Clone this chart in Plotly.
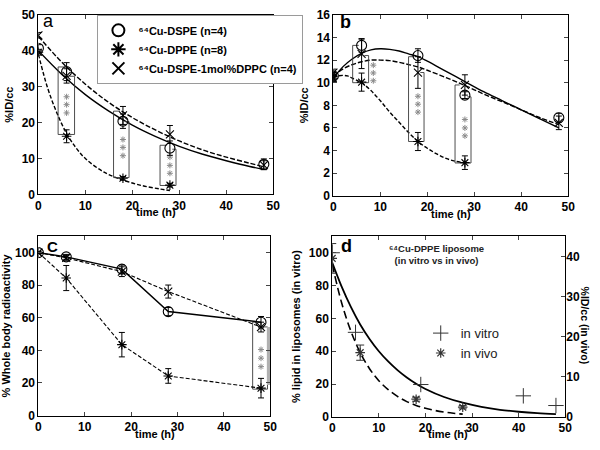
import plotly.graph_objects as go

# --- data ---
t_pts = [0, 6, 18, 28, 48]
t_pts4 = [0, 6, 18, 28]

# panel a (%ID/cc)
a_dspe = [40.7, 34.2, 20.4, 12.9, 8.4]
a_dspe_err = [1.0, 2.5, 2.0, 2.0, 1.5]
a_dppe = [39.6, 16.2, 4.5, 2.6]
a_dppe_err = [0.8, 1.8, 0.5, 0.5]
a_dppc = [44.3, 33.0, 22.0, 16.7, 8.2]
a_dppc_err = [0.8, 2.0, 2.5, 2.5, 1.2]

fit_t_a = [0, 5, 10, 15, 20, 25, 30, 35, 40, 45, 48]
a_fit_dspe = [40, 33.4, 27.8, 23.2, 19.3, 16.1, 13.4, 11.2, 9.4, 7.8, 7.0]
a_fit_dppc = [44, 36.8, 30.7, 25.6, 21.4, 17.9, 14.9, 12.4, 10.4, 8.7, 7.7]
fit_t_a2 = [0, 2, 4, 6, 8, 10, 14, 18, 22, 26, 28]
a_fit_dppe = [39, 29.5, 22.5, 17, 13, 10, 6.2, 4.0, 2.5, 1.5, 1.1]

# panel b (%ID/cc)
b_dspe = [10.6, 13.3, 12.4, 8.9, 6.9]
b_dspe_err = [0.3, 0.6, 0.6, 0.3, 0.4]
b_dppe = [10.4, 10.05, 4.8, 2.93]
b_dppe_err = [0.3, 0.8, 0.8, 0.6]
b_dppc = [10.9, 12.55, 10.9, 9.8, 6.45]
b_dppc_err = [0.3, 1.3, 1.4, 0.9, 0.6]

fit_t_b = [0, 2, 4, 6, 8, 10, 12, 14, 16, 18, 20, 24, 28, 32, 36, 40, 44, 48]
b_fit_dspe = [10.4, 11.4, 12.1, 12.6, 12.9, 13.0, 12.95, 12.8, 12.55, 12.3, 11.9, 11.0,
              10.1, 9.2, 8.4, 7.6, 6.8, 6.0]
b_fit_dppc = [10.6, 11.2, 11.6, 11.85, 12.0, 12.0, 11.95, 11.8, 11.6, 11.4, 11.1, 10.45,
              9.75, 9.0, 8.3, 7.6, 6.9, 6.3]
fit_t_b2 = [0, 1, 2, 3, 4, 6, 8, 10, 12, 14, 16, 18, 20, 22, 24, 26, 28]
b_fit_dppe = [10.4, 10.6, 10.65, 10.6, 10.4, 10.0, 9.3, 8.4, 7.4, 6.5, 5.6, 4.8, 4.2,
              3.7, 3.3, 3.05, 2.9]

# panel c (% whole body radioactivity)
c_dspe = [100, 97.4, 89.9, 63.8, 57.3]
c_dspe_err = [0.5, 1.5, 2.5, 2.5, 3.5]
c_dppe = [100, 84.4, 43.5, 24.3, 16.8]
c_dppe_err = [0.5, 7.7, 7.5, 4.5, 6.0]
c_dppc = [100, 96.8, 88.3, 76.1, 54.3]
c_dppc_err = [0.5, 1.5, 3.0, 4.0, 3.0]

# panel d
d_vitro_t = [0, 5, 19, 41, 48]
d_vitro = [100, 51.5, 19.7, 12.8, 6.9]
d_vivo_t = [0, 6, 18, 28]
d_vivo = [39.5, 16.0, 4.4, 2.4]
d_vivo_err = [3.7, 1.9, 0.5, 0.4]
fit_t_d = [0, 2, 4, 6, 8, 10, 12, 14, 16, 18, 20, 24, 28, 32, 36, 40, 44, 48]
d_fit_vitro = [94, 79.5, 67, 56.3, 47.5, 40, 33.8, 28.5, 24, 20.2, 17, 12.1, 8.6, 6.1,
               4.3, 3.1, 2.2, 1.6]
fit_t_d2 = [0, 2, 4, 6, 8, 10, 12, 14, 16, 18, 20, 22, 24, 26, 28]
d_fit_vivo = [38, 28.5, 21.4, 16, 12, 9, 6.8, 5.1, 3.8, 2.85, 2.14, 1.6, 1.2, 0.9, 0.67]

# significance brackets (x list, y list) and *** positions
a_brackets = [
    ([6.0, 4.2, 4.2, 7.7, 7.7, 6.6], [35.5, 35.5, 16.7, 16.7, 32.9, 32.9]),
    ([17.3, 16.0, 16.0, 19.3, 19.3, 18.4], [23.2, 23.2, 4.7, 4.7, 20.3, 20.3]),
    ([27.3, 25.9, 25.9, 29.3, 29.3, 28.5], [13.7, 13.7, 2.5, 2.5, 12.6, 12.6]),
]
a_star_x = [6, 6, 6, 18, 18, 18, 28, 28, 28]
a_star_y = [27.2, 25.0, 22.7, 15.3, 13.1, 10.8, 10.4, 8.1, 5.9]

b_brackets = [
    ([5.4, 4.1, 4.1, 5.4], [13.3, 13.3, 10.0, 10.0]),
    ([6.6, 7.5, 7.5, 6.6], [12.4, 12.4, 10.0, 10.0]),
    ([17.2, 16.0, 16.0, 19.3, 19.3, 18.5], [12.3, 12.3, 4.8, 4.8, 10.9, 10.9]),
    ([26.9, 25.9, 25.9, 29.3, 29.3, 28.5], [9.8, 9.8, 2.9, 2.9, 8.75, 8.75]),
]
b_star_x = [8.5, 8.5, 8.5, 18, 18, 18, 28, 28, 28]
b_star_y = [11.55, 10.86, 10.17, 8.8, 8.1, 7.4, 6.75, 6.0, 5.3]

c_brackets = [
    ([47.5, 46.2, 46.2, 49.4, 49.4, 48.5], [57.3, 57.3, 16.2, 16.2, 54.4, 54.4]),
]
c_grey_bar = ([49.7, 49.7], [54.4, 18.8])
c_star_x = [48, 48, 48]
c_star_y = [40.5, 35.2, 30.0]

BLACK = "black"
GREY = "#8a8a8a"
FONT = "Liberation Sans, Arial, sans-serif"

fig = go.Figure()


def markers(x, y, err, symbol, size, xa, ya, name=None, legend=None, mode="markers",
            dash="solid", lw=1.2):
    fig.add_trace(go.Scatter(
        x=x, y=y, mode=mode, xaxis=xa, yaxis=ya,
        name=name, showlegend=name is not None, legend=legend,
        marker=dict(symbol=symbol, size=size, color=BLACK,
                    line=dict(color=BLACK, width=1.1)),
        line=dict(color=BLACK, width=lw, dash=dash),
        error_y=dict(type="data", array=err, visible=err is not None,
                     color=BLACK, thickness=1, width=3),
    ))


def curve(x, y, xa, ya, dash, width=1.4):
    fig.add_trace(go.Scatter(
        x=x, y=y, mode="lines", xaxis=xa, yaxis=ya, showlegend=False,
        line=dict(color=BLACK, width=width, dash=dash, shape="spline"),
        hoverinfo="skip",
    ))


def brackets(blist, xa, ya):
    for bx, by in blist:
        fig.add_trace(go.Scatter(
            x=bx, y=by, mode="lines", xaxis=xa, yaxis=ya, showlegend=False,
            line=dict(color="#3a3a3a", width=0.9), hoverinfo="skip",
        ))


def stars(sx, sy, xa, ya):
    fig.add_trace(go.Scatter(
        x=sx, y=sy, mode="markers", xaxis=xa, yaxis=ya, showlegend=False,
        marker=dict(symbol="asterisk-open", size=5, color=GREY,
                    line=dict(color=GREY, width=1)),
        hoverinfo="skip",
    ))


SHORT_DASH = "4px,2px"
LONG_DASH = "5px,2px"

# ---- panel a ----
curve(fit_t_a, a_fit_dspe, "x", "y", "solid")
curve(fit_t_a, a_fit_dppc, "x", "y", LONG_DASH)
curve(fit_t_a2, a_fit_dppe, "x", "y", SHORT_DASH)
brackets(a_brackets, "x", "y")
stars(a_star_x, a_star_y, "x", "y")
markers(t_pts, a_dspe, a_dspe_err, "circle-open", 10, "x", "y",
        "<b>⁶⁴Cu-DSPE (n=4)</b>", "legend")
markers(t_pts4, a_dppe, a_dppe_err, "asterisk-open", 8, "x", "y",
        "<b>⁶⁴Cu-DPPE (n=8)</b>", "legend")
markers(t_pts, a_dppc, a_dppc_err, "x-thin-open", 8, "x", "y",
        "<b>⁶⁴Cu-DSPE-1mol%DPPC (n=4)</b>", "legend")

# ---- panel b ----
curve(fit_t_b, b_fit_dspe, "x2", "y2", "solid")
curve(fit_t_b, b_fit_dppc, "x2", "y2", LONG_DASH)
curve(fit_t_b2, b_fit_dppe, "x2", "y2", SHORT_DASH)
brackets(b_brackets, "x2", "y2")
stars(b_star_x, b_star_y, "x2", "y2")
markers(t_pts, b_dspe, b_dspe_err, "circle-open", 10, "x2", "y2")
markers(t_pts4, b_dppe, b_dppe_err, "asterisk-open", 8, "x2", "y2")
markers(t_pts, b_dppc, b_dppc_err, "x-thin-open", 8, "x2", "y2")

# ---- panel c ----
brackets(c_brackets, "x3", "y3")
fig.add_trace(go.Scatter(
    x=c_grey_bar[0], y=c_grey_bar[1], mode="lines", xaxis="x3", yaxis="y3",
    showlegend=False, line=dict(color="#b0b0b0", width=4), hoverinfo="skip",
))
stars(c_star_x, c_star_y, "x3", "y3")
markers(t_pts, c_dppe, c_dppe_err, "asterisk-open", 8, "x3", "y3",
        mode="lines+markers", dash=SHORT_DASH, lw=1.1)
markers(t_pts, c_dppc, c_dppc_err, "x-thin-open", 8, "x3", "y3",
        mode="lines+markers", dash=SHORT_DASH, lw=1.1)
markers(t_pts, c_dspe, c_dspe_err, "circle-open", 10, "x3", "y3",
        mode="lines+markers", lw=1.5)

# ---- panel d ----
curve(fit_t_d, d_fit_vitro, "x4", "y4", "solid", width=1.8)
curve(fit_t_d2, d_fit_vivo, "x4", "y5", "8px,4px", width=1.6)
fig.add_trace(go.Scatter(
    x=d_vitro_t, y=d_vitro, mode="markers", xaxis="x4", yaxis="y4",
    name="in vitro", legend="legend2",
    marker=dict(symbol="cross-thin-open", size=11, color="#333",
                line=dict(color="#333", width=1)),
))
fig.add_trace(go.Scatter(
    x=d_vivo_t, y=d_vivo, mode="markers", xaxis="x4", yaxis="y5",
    name="in vivo", legend="legend2",
    marker=dict(symbol="asterisk-open", size=8, color="#333",
                line=dict(color="#333", width=1.2)),
    error_y=dict(type="data", array=d_vivo_err, color="#333", thickness=1, width=4),
))

tickfont = dict(family=FONT, size=12, color=BLACK, weight="bold")
titlefont = dict(family=FONT, size=11, color=BLACK, weight="bold")


def xax(domain, anchor):
    return dict(domain=domain, anchor=anchor, range=[0, 50], tickvals=[0, 10, 20, 30, 40, 50],
                ticks="inside", ticklen=4, showline=True, linecolor=BLACK, linewidth=1,
                mirror="ticks", showgrid=False, zeroline=False, tickfont=tickfont)


def yax(domain, anchor, rng, dtick, title, mirror="ticks"):
    return dict(domain=domain, anchor=anchor, range=rng, dtick=dtick, tick0=0,
                ticks="inside", ticklen=4, showline=True, linecolor=BLACK, linewidth=1,
                mirror=mirror, showgrid=False, zeroline=False, tickfont=tickfont,
                title=dict(text=title, font=titlefont, standoff=5))


def xtitle(xc, yc):
    return dict(text="<b>time (h)</b>", x=xc, y=yc, xref="paper", yref="paper",
                showarrow=False, font=dict(family=FONT, size=11, color=BLACK),
                xanchor="center", yanchor="middle")


fig.update_layout(
    width=600, height=450,
    margin=dict(l=0, r=0, t=0, b=0),
    paper_bgcolor="white", plot_bgcolor="white",
    font=dict(family=FONT, color=BLACK),
    xaxis=xax([0.06, 0.458], "y"),
    yaxis=yax([0.570, 0.982], "x", [0, 50], 10, "%ID/cc"),
    xaxis2=xax([0.56, 0.958], "y2"),
    yaxis2=yax([0.567, 0.982], "x2", [0, 16], 2, "%ID/cc"),
    xaxis3=xax([0.06, 0.453], "y3"),
    yaxis3=yax([0.063, 0.474], "x3", [0, 110], 20, "% Whole body radioactivity"),
    xaxis4=xax([0.558, 0.953], "y4"),
    yaxis4=yax([0.06, 0.474], "x4", [0, 110], 20, "% lipid in liposomes (in vitro)",
               mirror=True),
    yaxis5=dict(overlaying="y4", anchor="x4", side="right", range=[0, 45], dtick=10,
                tick0=0, ticks="inside", ticklen=4, showline=False, showgrid=False,
                zeroline=False, tickfont=tickfont),
    legend=dict(x=0.16, y=0.982, xanchor="left", yanchor="top",
                bgcolor="white", bordercolor="#9a9a9a", borderwidth=1,
                font=dict(family=FONT, size=11, color=BLACK),
                tracegroupgap=0, itemsizing="constant", itemwidth=30),
    legend2=dict(x=0.708, y=0.229, xanchor="left", yanchor="middle",
                 bgcolor="rgba(0,0,0,0)", font=dict(family=FONT, size=13, color="#222"),
                 tracegroupgap=0, itemwidth=30),
    annotations=[
        xtitle(0.259, 0.529),
        xtitle(0.759, 0.525),
        xtitle(0.257, 0.021),
        xtitle(0.755, 0.021),
        dict(text="a", x=2.1, y=48.3, xref="x", yref="y", showarrow=False,
             font=dict(family=FONT, size=18, color=BLACK), xanchor="center"),
        dict(text="<b>b</b>", x=2.5, y=15.4, xref="x2", yref="y2", showarrow=False,
             font=dict(family=FONT, size=18, color=BLACK), xanchor="center"),
        dict(text="<b>C</b>", x=3, y=104, xref="x3", yref="y3", showarrow=False,
             font=dict(family=FONT, size=15, color=BLACK), xanchor="center"),
        dict(text="<b>d</b>", x=3, y=104, xref="x4", yref="y4", showarrow=False,
             font=dict(family=FONT, size=18, color=BLACK), xanchor="center"),
        dict(text="<b>⁶⁴Cu-DPPE liposome<br>(in vitro vs in vivo)</b>",
             x=22.3, y=99, xref="x4", yref="y4", showarrow=False,
             font=dict(family=FONT, size=9.5, color="#222"), align="center"),
        dict(text="<b>%ID/cc (in vivo)</b>", x=0.986, y=0.27, xref="paper", yref="paper",
             textangle=90, showarrow=False, xanchor="center", yanchor="middle",
             font=dict(family=FONT, size=10.5, color=BLACK)),
    ],
)

# remove the browser's default 8px page margin so the figure sits at (0, 0)
fig.write_html("out.html", config={"displayModeBar": False},
               post_script="document.body.style.margin='0';")
